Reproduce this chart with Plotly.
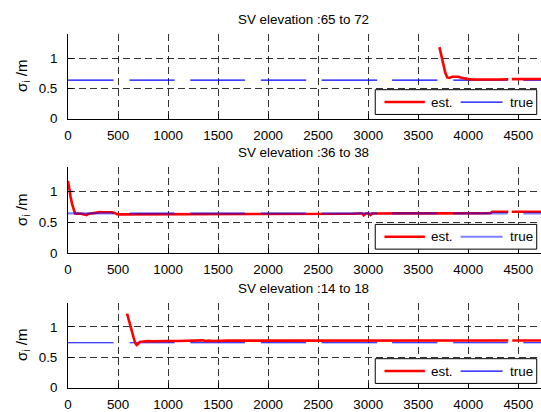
import plotly.graph_objects as go

# ---------------- data ----------------
titles = ["SV elevation :65 to 72", "SV elevation :36 to 38", "SV elevation :14 to 18"]
x_ticks = [0, 500, 1000, 1500, 2000, 2500, 3000, 3500, 4000, 4500]
y_ticks = [0, 0.5, 1]
y_tick_labels = ["0", "0.5", "1"]

# "true" values are drawn in segments (gaps between them)
true_seg_start = [0, 615, 1222, 1927, 2535, 3239, 3850, 4550]
true_seg_end = [455, 1065, 1768, 2380, 3090, 3692, 4395, 4760]
true_level = [0.635, 0.648, 0.74]

# estimated sigma, panel 1
est1_x = [3712, 3730, 3750, 3770, 3790, 3810, 3840, 3870, 3900, 3930, 3960, 4000, 4050, 4100,
          4150, 4200, 4250, 4300, 4350, 4400, None, 4435, 4500, 4600, 4760]
est1_y = [1.18, 1.05, 0.90, 0.76, 0.68, 0.672, 0.69, 0.695, 0.69, 0.675, 0.662, 0.652, 0.645, 0.642,
          0.646, 0.641, 0.645, 0.646, 0.65, 0.65, None, 0.652, 0.655, 0.655, 0.655]

# estimated sigma, panel 2
est2_x = [0, 10, 25, 40, 55, 70, 85, 100, 130, 160, 185, 200, 220, 250, 280, 320, 360, 400, 440,
          470, 490, 520, 800, 1200, 1600, 2000, 2400, 2800, 2850, 2900, 2940, 2955, 2975, 3000,
          3025, 3040, 3060, 3300, 3700, 4000, 4220, 4240, 4400, None, 4435, 4760]
est2_y = [1.17, 1.05, 0.92, 0.80, 0.70, 0.645, 0.64, 0.645, 0.64, 0.63, 0.62, 0.635, 0.64, 0.655,
          0.665, 0.667, 0.665, 0.662, 0.665, 0.65, 0.632, 0.63, 0.63, 0.63, 0.63, 0.632, 0.632,
          0.632, 0.64, 0.645, 0.645, 0.615, 0.645, 0.645, 0.618, 0.645, 0.646, 0.647, 0.647,
          0.648, 0.648, 0.672, 0.672, None, 0.673, 0.673]

# estimated sigma, panel 3
est3_x = [590, 610, 630, 650, 670, 685, 700, 716, 740, 770, 800, 850, 900, 950, 1000, 1100, 1200,
          1300, 1350, 1380, 1400, 1450, 1500, 1600, 1800, 2000, 2500, 3000, 3500, 4000, 4400,
          None, 4440, 4760]
est3_y = [1.22, 1.10, 0.97, 0.84, 0.74, 0.705, 0.72, 0.755, 0.76, 0.765, 0.77, 0.765, 0.77, 0.765,
          0.77, 0.77, 0.775, 0.77, 0.78, 0.765, 0.775, 0.77, 0.775, 0.775, 0.776, 0.776, 0.777,
          0.778, 0.778, 0.778, 0.778, None, 0.778, 0.778]

est_x = [est1_x, est2_x, est3_x]
est_y = [est1_y, est2_y, est3_y]

# ---------------- layout helpers ----------------
W, H = 541, 412
def px(x):
    return x / W
def py(y):
    return 1 - y / H

FONT = "Liberation Sans, Arial, sans-serif"
FS = 13.4
panel_px = [(34.5, 121.3), (170.5, 259.0), (309.5, 396.3)]  # (top, bottom) pixels
x_left_px = 64.5
x_range = [0, 4727]
y_range = [0, 1.4]

true_colors = ["#0000ff", "rgba(0,0,255,0.5)", "#0000ff"]
true_widths = [1.2, 2.2, 1.2]

fig = go.Figure()
shapes = []
annotations = []

for i in range(3):
    ax = "" if i == 0 else str(i + 1)
    xa, ya = "x" + ax, "y" + ax
    # true segments
    tx, ty = [], []
    for s, e in zip(true_seg_start, true_seg_end):
        tx += [s, e, None]
        ty += [true_level[i], true_level[i], None]
    est_trace = go.Scatter(x=est_x[i], y=est_y[i], mode="lines",
                           line=dict(color="#ff0000", width=2.6),
                           xaxis=xa, yaxis=ya, showlegend=False, connectgaps=False)
    true_trace = go.Scatter(x=tx, y=ty, mode="lines",
                            line=dict(color=true_colors[i], width=true_widths[i]),
                            xaxis=xa, yaxis=ya, showlegend=False, connectgaps=False)
    if i == 1:
        fig.add_trace(est_trace)
        fig.add_trace(true_trace)
    else:
        fig.add_trace(true_trace)
        fig.add_trace(est_trace)

    top, bot = panel_px[i]
    axis_common = dict(showline=True, linecolor="black", linewidth=1,
                       ticks="inside", ticklen=5, tickcolor="black", tickwidth=1,
                       showgrid=True, gridcolor="rgba(0,0,0,0.8)", gridwidth=1,
                       griddash="7px,4px", zeroline=False, mirror=False,
                       tickfont=dict(family=FONT, size=FS, color="black"))
    fig.update_layout(**{
        "xaxis" + ax: dict(domain=[px(x_left_px), 1], range=x_range, anchor=ya,
                           tickvals=x_ticks, ticktext=[str(v) for v in x_ticks],
                           ticklabelstandoff=4, **axis_common),
        "yaxis" + ax: dict(domain=[py(bot), py(top)], range=y_range, anchor=xa,
                           tickvals=y_ticks, ticktext=y_tick_labels,
                           ticklabelstandoff=7, **axis_common),
    })

    # title
    annotations.append(dict(text=titles[i], x=px(301.5), y=py(top - 14.5), xref="paper",
                            yref="paper", xanchor="center", yanchor="middle", showarrow=False,
                            font=dict(family=FONT, size=FS, color="black")))
    # y label
    annotations.append(dict(text="σ<sub>i</sub> /m", x=px(18), y=py((top + bot) / 2),
                            xref="paper", yref="paper", xanchor="center", yanchor="middle",
                            textangle=-90, showarrow=False,
                            font=dict(family=FONT, size=15, color="black")))
    # legend box
    lb_bot = bot - 4.3
    lb_top = lb_bot - 25.3
    lc = (lb_top + lb_bot) / 2
    shapes.append(dict(type="rect", xref="paper", yref="paper",
                       x0=px(374), x1=px(536.7), y0=py(lb_bot), y1=py(lb_top),
                       line=dict(color="black", width=1), fillcolor="white", layer="above"))
    shapes.append(dict(type="line", xref="paper", yref="paper",
                       x0=px(383.3), x1=px(424), y0=py(lc), y1=py(lc),
                       line=dict(color="#ff0000", width=2.6), layer="above"))
    shapes.append(dict(type="line", xref="paper", yref="paper",
                       x0=px(460), x1=px(502.3), y0=py(lc), y1=py(lc),
                       line=dict(color=true_colors[i] if i != 1 else "#7f7fff",
                                 width=true_widths[i]), layer="above"))
    annotations.append(dict(text="est.", x=px(428), y=py(lc), xref="paper", yref="paper",
                            xanchor="left", yanchor="middle", showarrow=False,
                            font=dict(family=FONT, size=FS, color="black")))
    annotations.append(dict(text="true", x=px(507.5), y=py(lc), xref="paper", yref="paper",
                            xanchor="left", yanchor="middle", showarrow=False,
                            font=dict(family=FONT, size=FS, color="black")))

fig.update_layout(width=W, height=H, margin=dict(l=0, r=0, t=0, b=0),
                  paper_bgcolor="white", plot_bgcolor="white",
                  shapes=shapes, annotations=annotations, showlegend=False,
                  font=dict(family=FONT, color="black"))

fig.write_html("out.html")
